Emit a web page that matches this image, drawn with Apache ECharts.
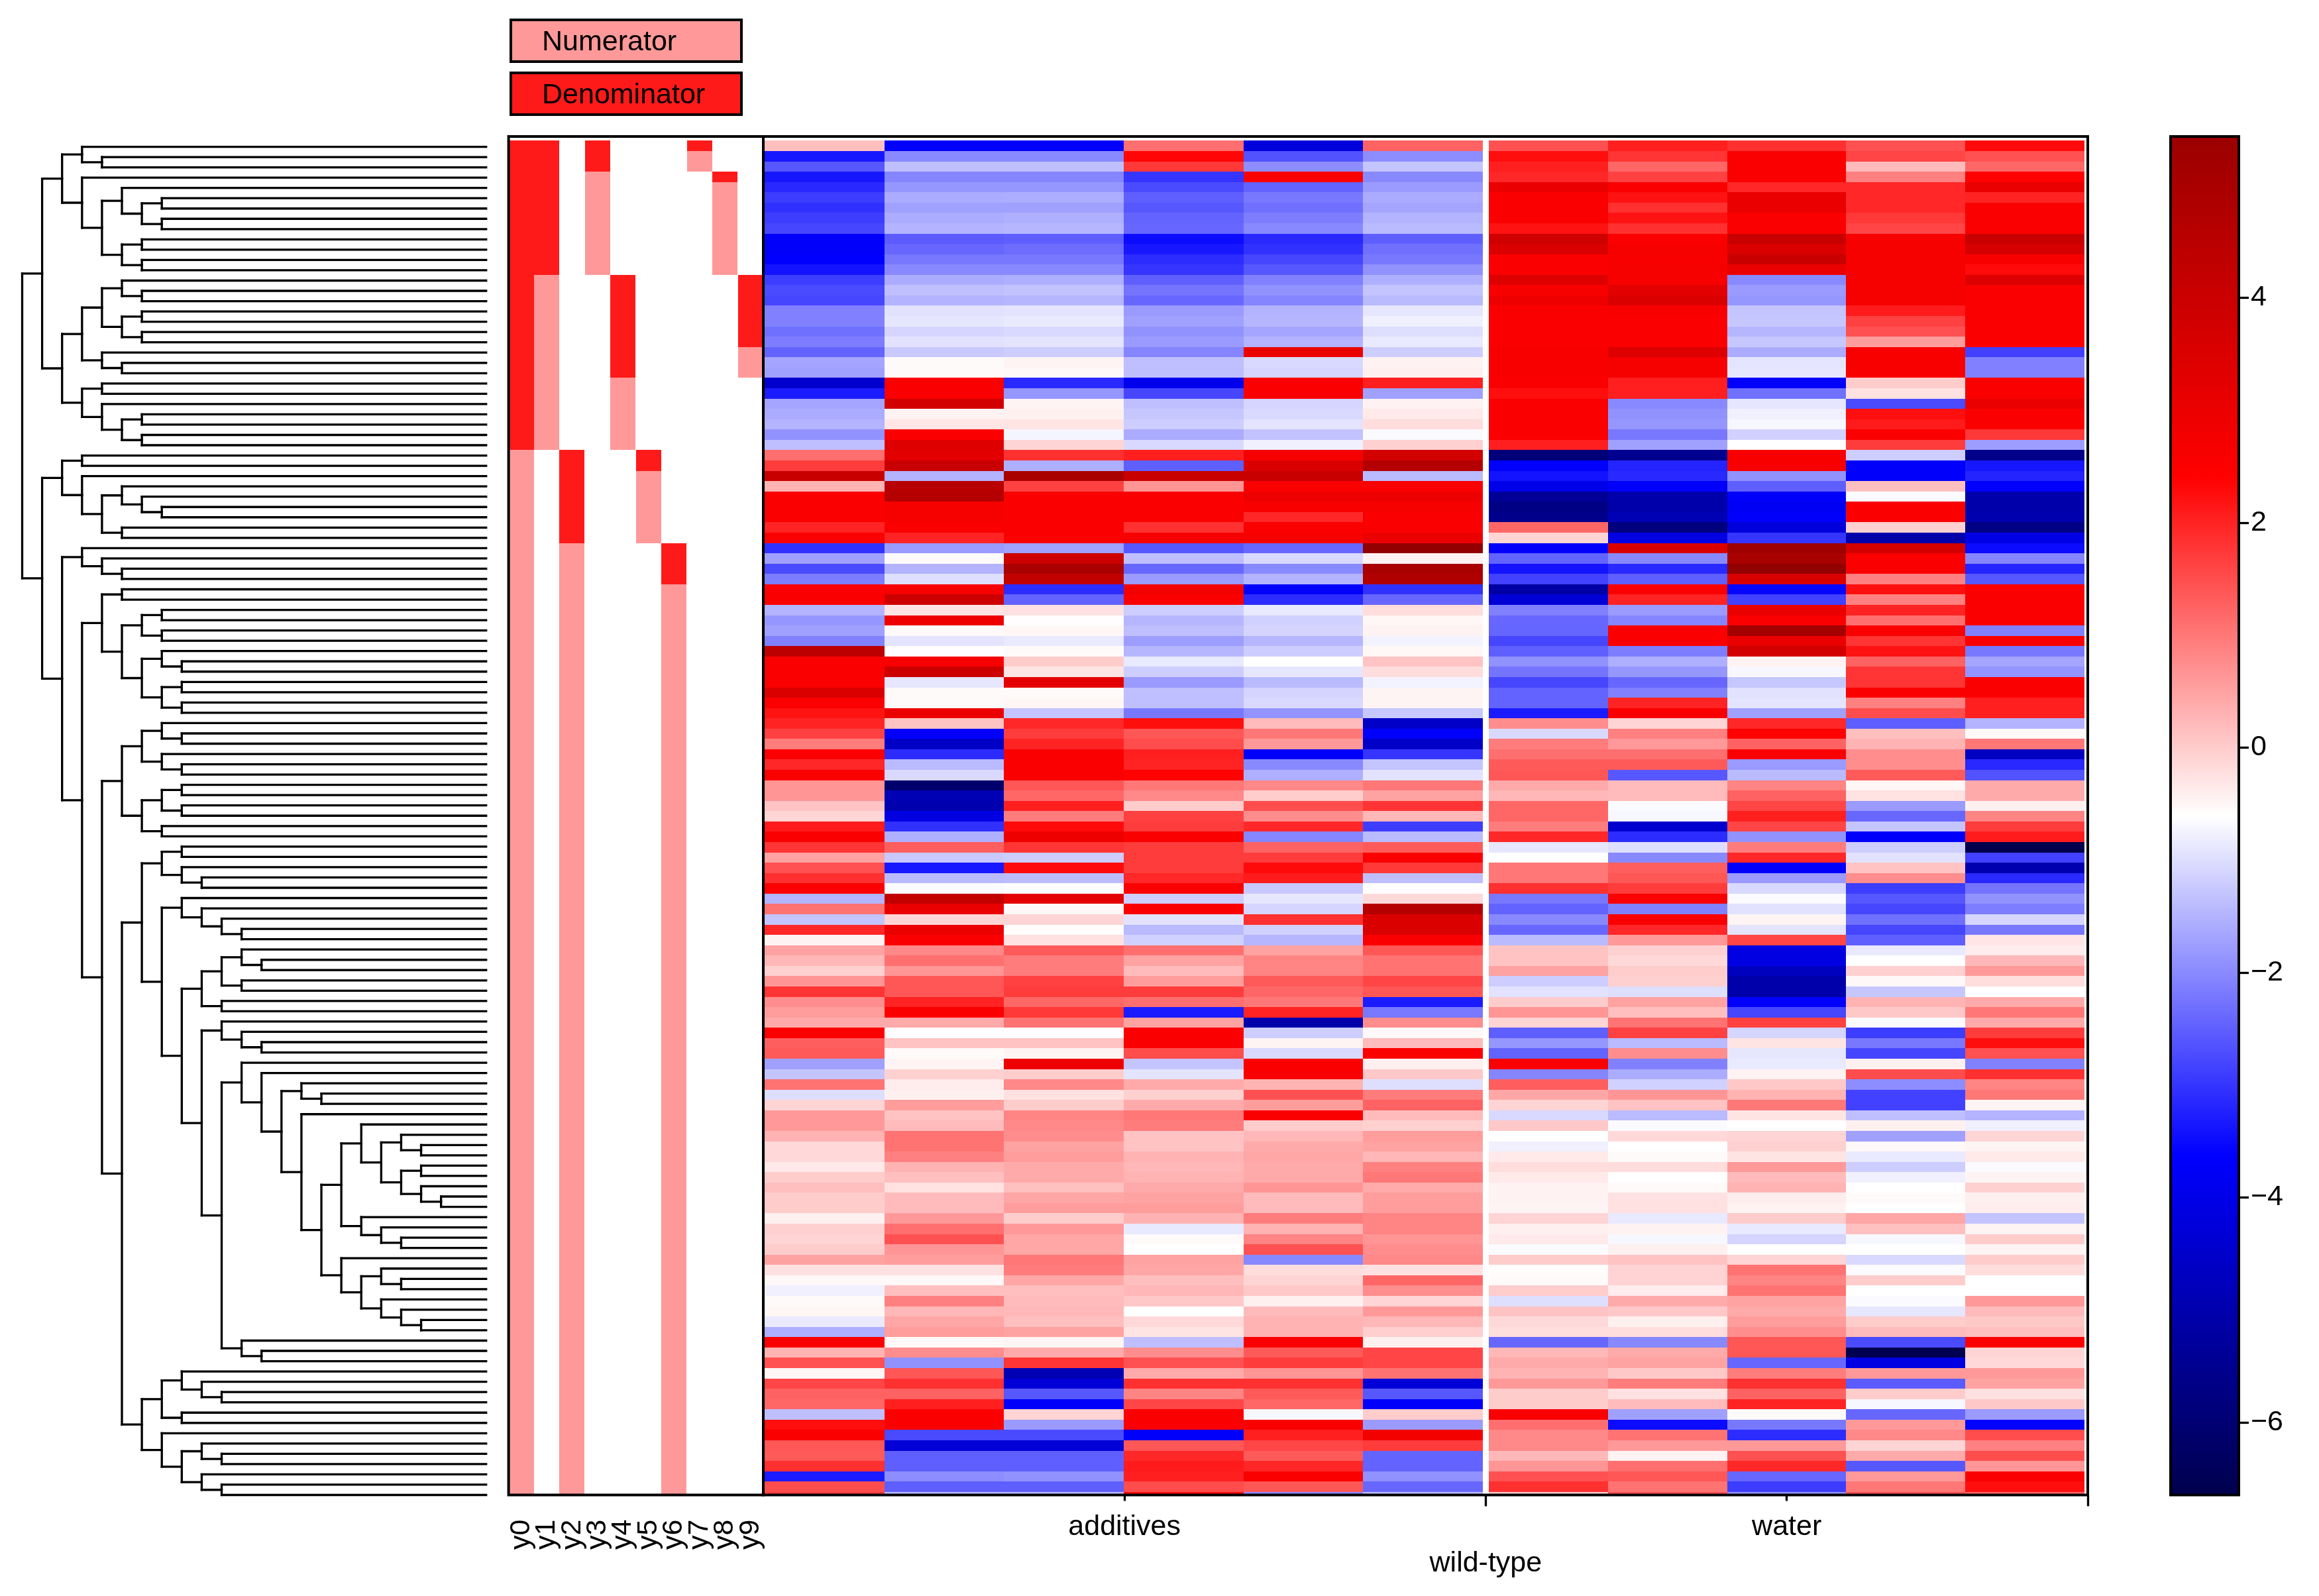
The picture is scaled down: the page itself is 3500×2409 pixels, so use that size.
<!DOCTYPE html>
<html>
<head>
<meta charset="utf-8">
<style>html,body{margin:0;padding:0;background:#fff}#chart{width:3500px;height:2409px}</style>
<script src="https://cdn.jsdelivr.net/npm/echarts@6/dist/echarts.min.js"></script>
</head>
<body>
<div id="chart"></div>
<script>
const FONT = '"Liberation Sans", Arial, sans-serif';

// indicator panel
const indicatorLabels = ['y0', 'y1', 'y2', 'y3', 'y4', 'y5', 'y6', 'y7', 'y8', 'y9'];
// [column, first row, last row]
const denominatorRanges = [[0, 0, 29], [1, 0, 12], [2, 30, 38], [3, 0, 2], [4, 13, 22], [5, 30, 31], [6, 39, 42], [7, 0, 0], [8, 3, 3], [9, 13, 19]];
const numeratorRanges = [[0, 30, 131], [1, 13, 29], [2, 39, 131], [3, 3, 12], [4, 23, 29], [5, 32, 38], [6, 43, 131], [7, 1, 2], [8, 4, 12], [9, 20, 22]];

// x axis groups
const groupLabels = ['additives', 'water'];
const groupCenters = [3, 8.5];
const groupEnds = [6, 11];
const outerLabel = 'wild-type';

const colorTicks = [-6, -4, -2, 0, 2, 4];
const colorMin = -6.645;
const colorMax = 5.435;
// matplotlib seismic
const seismic = ['#00004d', '#0000ff', '#ffffff', '#ff0000', '#800000'];
// the printed bar stops a little short of the darkest red
const barStops = ['#00004d', '#0000ff', '#ffffff', '#ff0000', '#9b0000'];

// one row per leaf, six columns
const additivesValues = [
  [.15, -3.7, -3.7, 1.1, -4.2, 1.25],
  [-3.35, -2, -2, 2.35, -2.65, -1.95],
  [-2.6, -1.36, -1.36, 1.75, -1.95, -1.3],
  [-3.35, -2.05, -2.05, -3, 2.5, -2],
  [-3.15, -1.85, -1.85, -2.75, -2.45, -1.8],
  [-2.9, -1.6, -1.58, -2.5, -2.2, -1.6],
  [-3.05, -1.73, -1.73, -2.6, -2.3, -1.67],
  [-2.9, -1.6, -1.55, -2.45, -2.15, -1.5],
  [-2.8, -1.5, -1.47, -2.4, -2, -1.42],
  [-3.7, -2.55, -2.5, -3.5, -3.15, -2.5],
  [-3.7, -2.4, -2.35, -3.35, -3.05, -2.3],
  [-3.65, -2.2, -2.2, -3.1, -2.8, -2.2],
  [-3.4, -2, -2, -3, -2.6, -1.9],
  [-2.9, -1.6, -1.55, -2.5, -2.1, -1.55],
  [-2.75, -1.36, -1.33, -2.25, -1.9, -1.3],
  [-2.8, -1.5, -1.47, -2.4, -2.05, -1.42],
  [-2.1, -.95, -.92, -1.8, -1.5, -.9],
  [-2.1, -.9, -.85, -1.73, -1.47, -.78],
  [-2.3, -1.1, -1.05, -1.9, -1.67, -1],
  [-2.15, -.95, -.92, -1.8, -1.5, -.87],
  [-2.45, -1.25, -1.2, -2.05, 2.9, -1.2],
  [-1.67, -.55, -.48, -1.36, -1.05, -.45],
  [-1.73, -.55, -.52, -1.38, -1.1, -.43],
  [-4.45, 2.5, -3.15, -3.95, 2.5, 2.05],
  [-3.3, 2.5, -1.85, -2.8, 2.5, -1.73],
  [-1.67, 3.45, -.48, -1.36, -1.1, -.45],
  [-1.6, -.45, -.43, -1.27, -1.05, -.35],
  [-1.5, -.3, -.28, -1.2, -.92, -.2],
  [-1.9, 2.5, -.72, -1.6, -1.33, -.67],
  [-1.36, 3.2, -.1, -1.05, -.78, -.05],
  [1.1, 3.1, 1.85, 2.05, 2.6, 3.45],
  [1.7, 3.7, -1.55, -2.5, 3.3, 4.2],
  [3.7, -1.5, 4.45, 3.7, 3.7, -1.42],
  [.3, 4.1, 1.65, .65, 2.5, 2.5],
  [2.5, 4.2, 2.5, 2.5, 2.8, 2.8],
  [2.5, 2.6, 2.5, 2.5, 2.55, 2.6],
  [2.5, 2.6, 2.5, 2.5, 1.95, 2.5],
  [2, 2.5, 2.5, 1.85, 2.5, 2.5],
  [2.5, 2, 2.5, 2.6, 2.6, 2.9],
  [-3.05, -1.8, -1.73, -2.6, -2.4, 5],
  [-1.73, -.55, 3.6, -1.36, -1.05, -.45],
  [-2.75, -1.5, 4.45, -2.4, -2, 4.45],
  [-2.15, -1, 3.85, -1.8, -1.5, 4.3],
  [2.5, 2.6, -3.1, 2.7, -3.7, -3.05],
  [2.5, 3.6, -2.45, 2.5, -3.1, -2.4],
  [-1.5, -.28, -.25, -1.2, -.87, -.2],
  [-1.85, 2.8, -.58, -1.47, -1.15, -.5],
  [-1.73, -.53, -.5, -1.36, -1.12, -.45],
  [-2.1, -.92, -.85, -1.77, -1.47, -.75],
  [4, -.58, -.55, -1.47, -1.2, -.5],
  [2.5, 2.55, 0, -.87, -.6, .1],
  [2.5, 3.6, -.28, -1.2, -.9, -.2],
  [2.5, -.9, 3.05, -1.8, -1.42, -.75],
  [3.3, -.55, -.55, -1.36, -1.12, -.48],
  [2.5, -.55, -.5, -1.36, -1.05, -.48],
  [2.2, 2.9, -1.3, -2.2, -1.87, -1.27],
  [2, .1, 1.95, 2.25, .2, -4.55],
  [1.65, -3.7, 1.7, 1.4, 1, -3.7],
  [.95, -4.6, 2, 1.5, .6, -4.55],
  [2.5, -3.1, 2.5, 2.05, -3.7, -3],
  [1.95, -1.42, 2.5, 2, -2, -1.3],
  [2.5, -1.05, 2.5, 2.4, -1.55, -.95],
  [.65, -6.1, 1.4, 1, .8, 1],
  [.65, -4.9, 1.2, .8, 0, .5],
  [.1, -5, 2.05, 0, 1.5, 1.8],
  [-.1, -4.1, .95, 1.65, .75, .25],
  [2.1, -3.05, 2.3, 1.7, 1.95, -2.9],
  [2.5, -1.55, 2.8, 2.5, -2.05, -1.42],
  [1.8, 1.3, 1.8, 1.7, 1.25, 1.35],
  [.5, -1.25, -1.2, 1.7, 1.7, 2.5],
  [1.45, -3.35, 2.3, 1.7, 2.3, 1.75],
  [1.85, -1.42, -1.4, 1.95, 2.1, -1.36],
  [2.5, -.65, -.63, 2.5, -1.25, -.58],
  [-1.5, 3.85, 3.05, -1.2, -.9, -.15],
  [1.05, 2.9, -.52, 2.5, -1.1, 4.2],
  [-1.3, -.1, -.1, -.95, 1.85, 3.3],
  [1.95, 2.9, -.57, -1.42, -1.15, 3.3],
  [-.45, 2.5, -.25, -1.15, -1.47, 2.5],
  [.5, .8, 1.35, 1.1, .5, 1.4],
  [.25, 1.1, .95, .5, .85, 1.05],
  [-.05, .65, .95, .2, .85, 1.05],
  [.65, 1.4, 1.65, .55, 1.35, 1.6],
  [1.8, 1.4, 1.7, 1.7, 1.2, 1.4],
  [.75, 2, 1.2, 1.1, 1, -3.3],
  [.55, 2.5, 1.75, -3.3, 2, -2.2],
  [.4, .4, 1.05, .5, -5.05, .75],
  [2.5, -.63, -.63, 2.5, -1.2, -.52],
  [1.3, .1, .1, 2.5, -.48, .2],
  [1.35, -.55, -.48, 1.5, -1.05, 2.5],
  [-1.73, -.48, 2.8, -1.3, 2.5, -.43],
  [-1.3, -.05, 0, -.92, 2.5, .05],
  [1.05, -.38, .8, .4, .3, -1],
  [-1, -.43, -.25, -.05, 1.45, .95],
  [-.1, .55, 0, .4, .55, 1.25],
  [.6, .1, .85, 1, 2.5, .2],
  [.6, .2, .8, .95, 0, -.05],
  [.3, 1.05, .75, .1, .25, .55],
  [-.15, 1.05, .5, .1, .4, .5],
  [-.15, .9, .55, .3, .45, .25],
  [-.35, .3, .4, .25, .4, .9],
  [0, .15, .4, .3, .4, 1],
  [.15, -.25, .15, .4, .65, .4],
  [0, .2, .45, .5, .2, .55],
  [0, .2, .55, .55, .2, .55],
  [-.43, .6, 0, .3, .95, .85],
  [-.05, 1.1, .6, -.87, .3, .85],
  [-.1, 1.45, .45, -.55, .85, .65],
  [0, .65, .45, -.6, 1.45, .75],
  [.5, .55, 1, .5, -2, .8],
  [-.25, -.25, .95, .45, -.2, -.25],
  [-.52, -.52, .45, .15, -.1, 1.2],
  [-.78, .15, .15, .25, .05, .75],
  [-.55, .9, .2, .05, -.43, -.1],
  [-.5, .25, .25, -.6, .2, .6],
  [-.87, .45, .15, -.15, .3, .25],
  [-1.55, .55, .5, -.28, .3, -.03],
  [2.5, -.52, -.48, -1.36, 2.5, -.43],
  [.3, .75, .4, .75, 1.35, 1.6],
  [1.45, -1.9, 1.8, 1.45, 1.7, 1.6],
  [-.5, 1.4, -4.9, .4, .65, 1.05],
  [1.6, 1.85, -4.3, 1.85, 1.85, -4.3],
  [1.25, 1.25, -2.6, .85, 1.35, -2.6],
  [1.2, 2.05, -3.7, 1.6, 1.2, -3.7],
  [-1.36, 2.5, -.1, 2.5, -.7, 0],
  [2.25, 2.5, -1.8, 2.5, 2.5, -1.8],
  [2.5, -2.75, -2.75, -3.7, 2.05, 2.7],
  [1.4, -4.3, -4.3, 1.4, 1.6, 1.7],
  [1.35, -2.5, -2.5, 1.95, 1.35, -2.45],
  [1.85, -2.5, -2.5, 2.1, 1.95, -2.45],
  [-3.3, -1.95, -1.9, 2.05, 2.5, -1.9],
  [1.5, -2.5, -2.5, 1.5, 1.4, -2.4],
  [1.7, -1.42, -1.42, 2.25, -2, -1.36]
];

// one row per leaf, five columns
const waterValues = [
  [1.45, 2.05, 1.85, 1.45, 2.3],
  [2.25, 1.8, 2.5, 1.6, 1.45],
  [2.05, 1.2, 2.5, .2, 1.2],
  [1.95, 1.65, 2.5, .9, 2.45],
  [2.9, 2.5, 1.95, 1.95, 2.9],
  [2.5, 2.2, 2.9, 1.95, 2],
  [2.5, 1.85, 2.9, 1.95, 2.5],
  [2.5, 2.2, 2.5, 1.75, 2.5],
  [2.2, 1.85, 2.5, 1.6, 2.5],
  [3.55, 2.5, 3.7, 2.6, 3.7],
  [3.3, 2.6, 3.3, 2.6, 3.4],
  [2.5, 2.55, 3.7, 2.6, 2.55],
  [2.5, 2.6, 2.9, 2.6, 2.3],
  [3.2, 2.55, -2, 2.6, 3.2],
  [2.55, 3.1, -1.8, 2.6, 2.5],
  [2.8, 3.3, -1.85, 2.6, 2.5],
  [2.5, 2.55, -1.3, 2.1, 2.5],
  [2.5, 2.5, -1.27, 1.65, 2.5],
  [2.5, 2.5, -1.47, 1.45, 2.5],
  [2.5, 2.5, -1.27, .55, 2.5],
  [2.55, 3.2, -1.6, 2.55, -2.85],
  [2.55, 2.6, -.92, 2.55, -2.1],
  [2.55, 2.6, -.9, 2.55, -2.1],
  [2.5, 2.05, -3.7, 0, 2.5],
  [2.25, 2.05, -2.3, -.25, 2.5],
  [2.5, -2, -.9, -2.75, 2.9],
  [2.5, -1.9, -.78, 2.25, 2.5],
  [2.5, -1.85, -.7, 2.1, 2.5],
  [2.5, -2.2, -1.15, 2.5, 1.75],
  [2.05, -1.73, -.6, 1.7, -1.77],
  [-5.9, -5.5, 2.55, -1.2, -5.6],
  [-3.7, -3.2, 2.55, -3.7, -3.35],
  [-3.4, -3.15, -1.9, -3.7, -3.2],
  [-4, -3.7, -2.5, .15, -3.7],
  [-5.4, -5.05, -3.7, -.65, -5.05],
  [-5.7, -5.05, -3.8, 2.5, -5.05],
  [-5.6, -4.9, -3.7, 2.5, -5],
  [1.2, -5.8, -4.2, -.05, -5.7],
  [-.1, -4.1, -3, -5.05, -4.05],
  [-3.7, 3.3, 4.7, 3.45, -3.5],
  [-2.45, -2, 4.45, 2.5, -2.05],
  [-3.4, -3.15, 5, 2.5, -3.2],
  [-2.85, -2.5, 3.3, .9, -2.6],
  [-5.15, 2.5, -3.55, 2.25, 2.5],
  [-4.3, 2, -2.85, .9, 2.5],
  [-2.1, -1.8, 2.9, 2, 2.5],
  [-2.4, -2.05, 2.5, 1.1, 2.5],
  [-2.43, 2.5, 4.55, 2.5, -2.1],
  [-2.8, 2.5, 2.9, 1.8, 2.5],
  [-2.5, -2.15, 3.45, 2.2, -2.2],
  [-1.9, -1.55, -.45, 1.25, -1.67],
  [-2.25, -1.85, -.7, 1.8, -1.87],
  [-2.8, -2.4, -1.27, 1.8, 2.5],
  [-2.45, -2.1, -.95, 2.5, 2.5],
  [-2.45, 2, -.92, .9, 2.05],
  [-3.3, 2.5, -1.73, 1.5, 2.05],
  [.75, -.1, 1.95, -2.5, -1.5],
  [-1.05, .9, 2.4, .15, -.52],
  [.95, .6, 1.25, .3, 1],
  [1.1, 1.1, 2.5, .75, -4.7],
  [1.35, 1.35, -1.8, .75, -3.15],
  [1.4, -2.6, -1.42, 1.35, -2.65],
  [.4, .2, .85, -.5, .4],
  [.25, .2, 1.25, -.25, .4],
  [1.2, -.65, 1.6, -1.8, -.43],
  [1.2, -.7, 2.05, -2.4, .85],
  [.95, -4.45, 1.6, -1.3, 1.7],
  [1.95, -3.1, -1.9, -3.7, 2.1],
  [-.9, -1, .95, -1.2, -6.64],
  [-.6, -2, 1.95, -.95, -2.85],
  [1, 1.3, -3.7, .1, -5],
  [1, 1.4, -1.8, .75, -3.15],
  [1.85, 1.7, -1.05, -2.9, -2.25],
  [-2.2, 2.5, -.67, -2.6, -1.9],
  [-2.45, -2.1, -.95, -2.8, -2.15],
  [-2, 2.5, -.48, -2.3, -1.1],
  [-2.4, 1.95, -.92, -2.8, -2.2],
  [-1.42, .6, 1.6, -2.5, -.3],
  [.1, -.05, -4.1, -.87, -.38],
  [.1, -.15, -4.1, -.6, .25],
  [.5, 0, -4.7, -.05, .6],
  [-1.2, -.05, -5.05, -.52, -.2],
  [-.95, -1, -5.05, -1.27, -.6],
  [0, .5, -3.7, .3, .4],
  [.65, .15, -2.8, .05, 1],
  [-.1, 1.05, 1.65, -.67, .4],
  [-2.5, 1.65, -1.1, -2.9, 1.7],
  [-1.85, -1.42, -.28, -2.2, 2.25],
  [-2.45, .75, -.9, -2.8, 1.45],
  [2.5, -2.1, -.85, -.43, -2.1],
  [-2.05, -1.6, -.45, 1.5, 1.85],
  [1.3, -1.15, .05, -1.95, .85],
  [.45, .65, .3, -2.85, 1],
  [-.1, .1, 1, -2.85, -.48],
  [-1.05, -1.42, -.28, -1.36, -1.5],
  [.05, -.67, -.6, -.43, -.78],
  [-.6, -.15, -.1, -1.73, -.1],
  [-.78, -.6, -.05, -.52, -.48],
  [-.35, -.55, -.28, -.85, -.35],
  [-.2, -.2, .6, -1.2, -.67],
  [-.35, -.6, .2, -.78, -.48],
  [-.45, -.55, .3, -.6, -.05],
  [-.45, -.25, -.38, -.55, -.43],
  [-.48, -.25, -.45, -.6, -.38],
  [-.1, -.87, 0, .45, -1.3],
  [-.43, -.45, -.87, .15, -.48],
  [-.35, -.7, -1.12, -.7, 0],
  [-.65, -.43, -.6, -.6, -.48],
  [0, .1, -.1, -1.05, 0],
  [-.57, -.08, 1.05, -.65, -.2],
  [-.55, -.08, .85, 0, -.6],
  [0, -.38, 1.05, -.6, -.6],
  [-1, .4, .5, -.65, .6],
  [.1, .05, .4, -.9, .2],
  [-.15, -.43, .55, 0, .05],
  [-.2, -.2, .75, .2, .15],
  [-2.4, -2, 1.4, -2.75, 2.5],
  [.25, .4, 1.4, -6.6, -.1],
  [.4, .5, -2.4, -4.1, -.15],
  [.3, .05, .95, .6, .6],
  [.6, .95, 1.85, -2.55, .5],
  [0, -.25, 1.25, 0, -.25],
  [0, .2, 2, -.7, .05],
  [2.5, -1.73, -.55, -2.4, -1.8],
  [1.1, -3.5, -2.2, .6, -3.6],
  [.8, 1.05, -3.1, .8, 1.5],
  [.8, .6, .6, -.1, .9],
  [.25, -.45, 1.45, .4, 1.5],
  [.65, 1.1, 1.95, -2.6, .65],
  [1.45, 1.4, -2.4, .6, 2.5],
  [1.85, 1.05, -2.9, 1, 2.25],
  [0, 1.45, -1.9, 1.45, 1.2]
];

// leaves are row numbers, nesting follows the tree from the root
const dendrogram = [
  [
    [[0, [1, 2]], [3, [[4, [[5, 6], [7, 8]]], [[9, 10], [11, 12]]]]],
    [
      [[[13, [14, 15]], [[16, 17], [18, 19]]], [20, [21, 22]]],
      [[23, 24], [25, [[26, 27], [28, 29]]]]
    ]
  ],
  [
    [[30, 31], [32, [[33, [34, [35, 36]]], [37, 38]]]],
    [
      [39, [40, [41, 42]]],
      [
        [[43, 44], [[[45, 46], [47, 48]], [[49, [50, 51]], [[52, 53], [54, 55]]]]],
        [
          [[[56, [57, 58]], [59, [60, 61]]], [[[62, 63], [64, 65]], [66, 67]]],
          [
            [
              [[68, 69], [70, [71, 72]]],
              [
                [73, [74, [75, [76, 77]]]],
                [
                  [[[78, [79, 80]], [81, 82]], [83, 84]],
                  [
                    [85, [86, [87, 88]]],
                    [
                      [89, [90, [
                        [91, [92, 93]],
                        [94, [
                          [[95, [[96, [97, 98]], [[99, 100], [101, [102, 103]]]]], [104, [105, [106, 107]]]],
                          [108, [[109, [110, 111]], [112, [113, [114, 115]]]]]
                        ]]
                      ]]],
                      [116, [117, 118]]
                    ]
                  ]
                ]
              ]
            ],
            [[[119, [120, [121, 122]]], [123, 124]], [125, [[126, [127, 128]], [129, [130, 131]]]]]
          ]
        ]
      ]
    ]
  ]
];

const LEAF_DEPTH = 23.26;
const dendroLinks = [];
function walk(node, depth) {
  if (typeof node === 'number') return node;
  const a = walk(node[0], depth + 1);
  const b = walk(node[1], depth + 1);
  dendroLinks.push([depth, a, depth, b]);
  dendroLinks.push([depth, a, typeof node[0] === 'number' ? LEAF_DEPTH : depth + 1, a]);
  dendroLinks.push([depth, b, typeof node[1] === 'number' ? LEAF_DEPTH : depth + 1, b]);
  return (a + b) / 2;
}
walk(dendrogram, 0);

const heatData = [];
additivesValues.forEach((row, r) => {
  row.forEach((v, c) => heatData.push([c, r, v]));
  waterValues[r].forEach((v, c) => heatData.push([c + 6, r, v]));
});

const indicatorData = [];
denominatorRanges.forEach(d => { for (let r = d[1]; r <= d[2]; r++) indicatorData.push([d[0], r, 1]); });
numeratorRanges.forEach(d => { for (let r = d[1]; r <= d[2]; r++) indicatorData.push([d[0], r, 0]); });

// cells sit slightly inside their group
function cellLeft(c) { return c < 6 ? 0.011 + c * 0.9942 : 6.025 + (c - 6) * 0.9896; }
function cellRight(c) { return c < 6 ? 0.011 + (c + 1) * 0.9942 : 6.025 + (c - 5) * 0.9896; }

function renderHeat(params, api) {
  const c = api.value(0), r = api.value(1);
  const p0 = api.coord([cellLeft(c), r - 0.5]);
  const p1 = api.coord([cellRight(c), r + 0.5]);
  const x = Math.round(p0[0]), y = Math.round(p0[1]);
  return {
    type: 'rect',
    shape: { x: x, y: y, width: Math.round(p1[0]) - x, height: Math.round(p1[1]) - y },
    style: { fill: api.visual('color') }
  };
}

function renderIndicator(params, api) {
  const c = api.coord([api.value(0), api.value(1)]);
  const w = api.size([1, 1])[0];
  const y0 = Math.round(api.coord([0, api.value(1) - 0.5])[1]);
  const y1 = Math.round(api.coord([0, api.value(1) + 0.5])[1]);
  return {
    type: 'rect',
    shape: { x: Math.round(c[0] - w / 2), y: y0, width: Math.round(w), height: y1 - y0 },
    style: { fill: api.value(2) ? '#ff1a1a' : '#ff9999' }
  };
}

function renderLink(params, api) {
  const a = api.coord([api.value(0), api.value(1)]);
  const b = api.coord([api.value(2), api.value(3)]);
  return {
    type: 'line',
    shape: { x1: a[0], y1: a[1], x2: b[0], y2: b[1] },
    style: { stroke: '#000', lineWidth: 3.3, lineCap: 'square' }
  };
}

function renderBar(params, api) {
  const a = api.coord([0, api.value(1)]);
  const b = api.coord([1, api.value(0)]);
  return {
    type: 'rect',
    shape: { x: a[0], y: a[1], width: b[0] - a[0], height: b[1] - a[1] },
    style: {
      fill: new echarts.graphic.LinearGradient(0, 1, 0, 0, barStops.map((color, i) => ({ offset: i / 4, color: color })))
    }
  };
}

function frame(left, top, width, height) {
  return { type: 'rect', z: 100, shape: { x: left, y: top, width: width, height: height }, style: { fill: null, stroke: '#000', lineWidth: 4 } };
}
function legendBox(top, fill, label) {
  return [
    { type: 'rect', z: 100, shape: { x: 771, y: top, width: 348, height: 63 }, style: { fill: fill, stroke: '#000', lineWidth: 4 } },
    { type: 'text', z: 101, style: { x: 818, y: top + 34, text: label, font: '43px ' + FONT, fill: '#000', textVerticalAlign: 'middle' } }
  ];
}

const TOP = 206, HEIGHT = 2050.5;
const hidden = { show: false };
const noLine = { show: false, onZero: false };
const label = { color: '#000', fontFamily: FONT, fontSize: 43 };
const tick = { lineStyle: { color: '#000', width: 3.3 } };

const chart = echarts.init(document.getElementById('chart'), null, { renderer: 'canvas' });
chart.setOption({
  animation: false,
  backgroundColor: '#fff',
  grid: [
    { left: 33.5, top: TOP, width: 700.2, height: HEIGHT },
    { left: 767.6, top: TOP, width: 384.4, height: HEIGHT },
    { left: 1152, top: TOP, width: 1999, height: HEIGHT },
    { left: 1152, top: TOP, width: 1999, height: HEIGHT },
    { left: 3276, top: TOP, width: 103, height: HEIGHT }
  ],
  xAxis: [
    { gridIndex: 0, type: 'value', min: 0, max: LEAF_DEPTH, show: false },
    {
      gridIndex: 1, type: 'category', data: indicatorLabels,
      axisLine: noLine,
      axisTick: Object.assign({ alignWithLabel: true, length: 17 }, tick),
      axisLabel: Object.assign({ rotate: 90, margin: 37, interval: 0 }, label)
    },
    {
      gridIndex: 2, type: 'value', min: 0, max: 11, splitLine: hidden, axisLine: noLine,
      axisTick: Object.assign({ length: 17, customValues: groupEnds }, tick),
      axisLabel: Object.assign({ margin: 82, customValues: [groupEnds[0]], formatter: () => outerLabel }, label)
    },
    {
      gridIndex: 3, type: 'value', min: 0, max: 11, splitLine: hidden, axisLine: noLine,
      axisTick: Object.assign({ length: 9, customValues: groupCenters }, tick),
      axisLabel: Object.assign({ margin: 27, customValues: groupCenters, formatter: v => groupLabels[groupCenters.indexOf(v)] }, label)
    },
    { gridIndex: 4, type: 'value', min: 0, max: 1, show: false }
  ],
  yAxis: [
    { gridIndex: 0, type: 'value', inverse: true, min: -1, max: 131, show: false },
    { gridIndex: 1, type: 'value', inverse: true, min: -0.911, max: 130.8, show: false },
    { gridIndex: 2, type: 'value', inverse: true, min: -0.911, max: 130.8, show: false },
    { gridIndex: 3, type: 'value', inverse: true, min: -0.911, max: 130.8, show: false },
    {
      gridIndex: 4, type: 'value', position: 'right', min: colorMin, max: colorMax, splitLine: hidden, axisLine: noLine,
      axisTick: Object.assign({ length: 15, customValues: colorTicks }, tick),
      axisLabel: Object.assign({ margin: 18, customValues: colorTicks, formatter: v => String(v).replace('-', '\u2212') }, label)
    }
  ],
  visualMap: {
    show: false, type: 'continuous', seriesIndex: 2, dimension: 2,
    min: colorMin, max: colorMax, inRange: { color: seismic }
  },
  series: [
    { type: 'custom', xAxisIndex: 0, yAxisIndex: 0, renderItem: renderLink, data: dendroLinks, silent: true },
    { type: 'custom', xAxisIndex: 1, yAxisIndex: 1, renderItem: renderIndicator, data: indicatorData, encode: { x: 0, y: 1 }, clip: true, silent: true },
    { type: 'custom', xAxisIndex: 2, yAxisIndex: 2, renderItem: renderHeat, data: heatData, encode: { x: 0, y: 1 }, clip: true, silent: true },
    { type: 'custom', xAxisIndex: 4, yAxisIndex: 4, renderItem: renderBar, data: [[colorMin, colorMax]], silent: true }
  ],
  graphic: [
    frame(767.6, TOP, 384.4, HEIGHT),
    frame(1152, TOP, 1999, HEIGHT),
    frame(3276, TOP, 103, HEIGHT)
  ].concat(legendBox(30, '#ff9999', 'Numerator'), legendBox(110, '#ff1a1a', 'Denominator'))
});
</script>
</body>
</html>
